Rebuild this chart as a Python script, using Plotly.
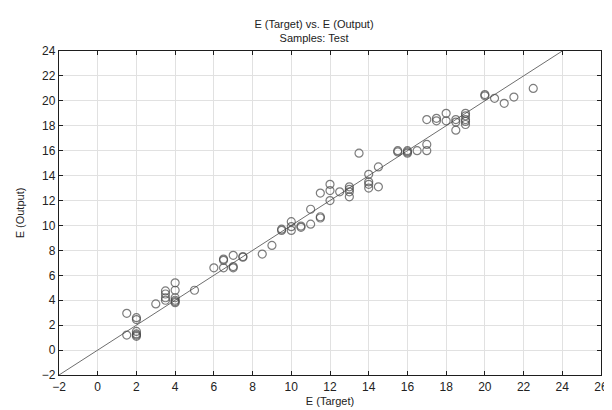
import plotly.graph_objects as go

# Test samples: target vs output
target = [1.5, 1.5, 2, 2, 2, 2, 2, 2, 3,
          3.5, 3.5, 3.5, 3.5, 4, 4, 4, 4, 4, 4, 5,
          6, 6.5, 6.5, 6.5, 7, 7, 7, 7.5, 7.5, 8.5, 9,
          9.5, 9.5, 10, 10, 10, 10.5, 10.5, 11, 11, 11.5, 11.5, 11.5,
          12, 12, 12, 12.5, 13, 13, 13, 13, 13.5,
          14, 14, 14, 14, 14.5, 14.5, 15.5, 15.5, 16, 16, 16, 16.5,
          17, 17, 17, 17.5, 17.5, 18, 18, 18.5, 18.5, 18.5,
          19, 19, 19, 19, 19, 20, 20, 20.5, 21, 21.5, 22.5]
output = [2.95, 1.2, 2.6, 2.45, 1.5, 1.3, 1.2, 1.1, 3.7,
          4.75, 4.5, 4.2, 4.0, 5.4, 4.8, 4.2, 4.0, 3.9, 3.8, 4.8,
          6.6, 7.3, 7.2, 6.6, 7.6, 6.7, 6.6, 7.5, 7.45, 7.7, 8.4,
          9.7, 9.6, 10.3, 9.9, 9.6, 9.95, 9.85, 10.1, 11.3, 10.7, 10.6, 12.6,
          13.3, 12.8, 12.0, 12.7, 13.1, 12.9, 12.7, 12.3, 15.8,
          14.1, 13.5, 13.3, 13.0, 14.7, 13.1, 16.0, 15.9, 16.0, 15.9, 15.8, 16.0,
          18.5, 16.5, 16.0, 18.6, 18.4, 19.0, 18.4, 18.5, 18.3, 17.65,
          19.0, 18.8, 18.5, 18.35, 18.1, 20.5, 20.4, 20.2, 19.8, 20.3, 21.0]

# Reference line y = x
line_x = [-2, 24]
line_y = [-2, 24]

x_ticks = list(range(-2, 27, 2))
y_ticks = list(range(-2, 25, 2))

font_family = "Liberation Sans, Arial, sans-serif"

fig = go.Figure()
fig.add_trace(go.Scatter(
    x=line_x, y=line_y, mode="lines",
    line=dict(color="rgb(110,110,110)", width=1),
    hoverinfo="skip", showlegend=False,
))
fig.add_trace(go.Scatter(
    x=target, y=output, mode="markers",
    marker=dict(symbol="circle-open", size=8, color="rgb(70,70,70)",
                opacity=0.7, line=dict(width=1.2)),
    showlegend=False,
))

axis_common = dict(
    showgrid=True, gridcolor="rgb(225,225,225)", gridwidth=1,
    zeroline=False,
    showline=True, linecolor="rgb(30,30,30)", linewidth=1.3, mirror="allticks",
    ticks="inside", ticklen=4, tickcolor="rgb(30,30,30)",
    tickfont=dict(family=font_family, size=12, color="#222"),
    ticklabeloverflow="allow",
)

fig.update_layout(
    width=612, height=410,
    margin=dict(l=49, r=13, t=43, b=43),
    paper_bgcolor="white", plot_bgcolor="white",
    title=dict(
        text="E (Target) vs. E (Output)<br>Samples: Test",
        x=0.5, xref="container", xanchor="center",
        y=1 - 20 / 410, yref="container", yanchor="middle",
        font=dict(family=font_family, size=11, color="#222"),
    ),
    xaxis=dict(range=[-2, 26.0001], tickvals=x_ticks,
               title=dict(text="E (Target)", standoff=4,
                          font=dict(family=font_family, size=11, color="#222")),
               **axis_common),
    yaxis=dict(range=[-2, 24], tickvals=y_ticks,
               title=dict(text="E (Output)", standoff=14,
                          font=dict(family=font_family, size=11, color="#222")),
               **axis_common),
)

fig.write_html("out.html")
